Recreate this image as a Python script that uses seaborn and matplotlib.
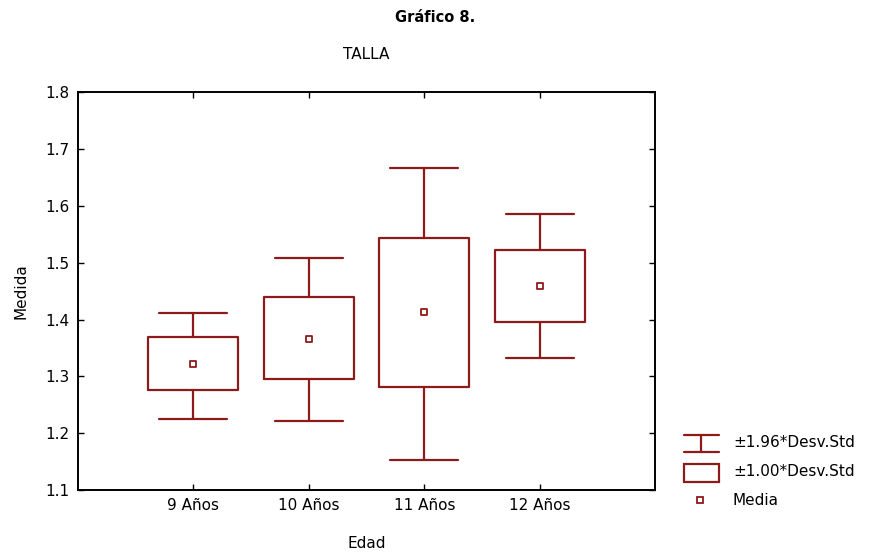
import pandas as pd
import seaborn as sns
import matplotlib.pyplot as plt
from matplotlib.lines import Line2D
from matplotlib.patches import Rectangle

# Data (TALLA by Edad)
edades = ["9 Años", "10 Años", "11 Años", "12 Años"]
medias = [1.322, 1.366, 1.413, 1.459]
sd_inf = [1.276, 1.295, 1.281, 1.395]     # media - 1.00*SD
sd_sup = [1.369, 1.439, 1.543, 1.522]     # media + 1.00*SD
ic_inf = [1.225, 1.221, 1.153, 1.332]     # media - 1.96*SD
ic_sup = [1.411, 1.508, 1.666, 1.585]     # media + 1.96*SD
y_ticks = [1.1, 1.2, 1.3, 1.4, 1.5, 1.6, 1.7, 1.8]

red = "#8E1B1B"

sns.set_style("ticks", {"xtick.direction": "in", "ytick.direction": "in"})
plt.rcParams['font.family'] = ['DejaVu Sans']
plt.rcParams['text.color'] = 'black'
plt.rcParams['axes.labelcolor'] = 'black'
plt.rcParams['xtick.labelcolor'] = 'black'
plt.rcParams['ytick.labelcolor'] = 'black'

fig = plt.figure(figsize=(8.76, 5.55), dpi=100)
ax = fig.add_axes([0.089, 0.117, 0.659, 0.717])

stats = []
for i, lab in enumerate(edades):
    stats.append({"label": lab, "med": medias[i], "q1": sd_inf[i], "q3": sd_sup[i],
                  "whislo": ic_inf[i], "whishi": ic_sup[i], "fliers": []})

ax.bxp(stats, positions=range(len(edades)), widths=0.78, capwidths=0.59,
       showfliers=False, patch_artist=False,
       boxprops=dict(color=red, linewidth=1.6),
       whiskerprops=dict(color=red, linewidth=1.6),
       capprops=dict(color=red, linewidth=1.6),
       medianprops=dict(linewidth=0))

df = pd.DataFrame({"pos": range(len(edades)), "Media": medias})
sns.scatterplot(data=df, x="pos", y="Media", marker="s", s=22, color="white",
                edgecolor=red, linewidth=1.3, ax=ax, zorder=5)

ax.set_xlim(-1, 4)
ax.set_ylim(1.1, 1.8)
ax.set_xticks(range(len(edades)))
ax.set_xticklabels(edades, fontsize=11)
ax.set_yticks(y_ticks)
ax.set_yticklabels([f"{v:.1f}" for v in y_ticks], fontsize=11)
ax.tick_params(top=True, right=True, length=4, width=1, color="black", pad=6)
for s in ax.spines.values():
    s.set_visible(True)
    s.set_color("black")
    s.set_linewidth(1.4)

ax.set_xlabel("Edad", fontsize=11, labelpad=16)
ax.set_ylabel("Medida", fontsize=11, labelpad=12)
ax.set_title("TALLA", fontsize=11, pad=24)
fig.text(0.497, 0.968, "Gráfico 8.", fontsize=10.5, fontweight="bold",
         ha="center", va="center")

# legend drawn in its own box to the right of the plot
lg = fig.add_axes([0.775, 0.06, 0.225, 0.18])
lg.set_xlim(0, 1)
lg.set_ylim(0, 1)
lg.axis("off")
lg.add_line(Line2D([0.025, 0.203], [0.87, 0.87], color=red, lw=1.6))
lg.add_line(Line2D([0.025, 0.203], [0.70, 0.70], color=red, lw=1.6))
lg.add_line(Line2D([0.114, 0.114], [0.70, 0.87], color=red, lw=1.6))
lg.add_patch(Rectangle((0.025, 0.40), 0.178, 0.18, fill=False, edgecolor=red, lw=1.6))
lg.plot([0.107], [0.22], marker="s", ms=4.5, mfc="white", mec=red, mew=1.3)
lg.text(0.274, 0.79, "±1.96*Desv.Std", fontsize=11, va="center", clip_on=False)
lg.text(0.274, 0.50, "±1.00*Desv.Std", fontsize=11, va="center", clip_on=False)
lg.text(0.274, 0.21, "Media", fontsize=11, va="center", clip_on=False)

fig.savefig("out.png", dpi=100)
